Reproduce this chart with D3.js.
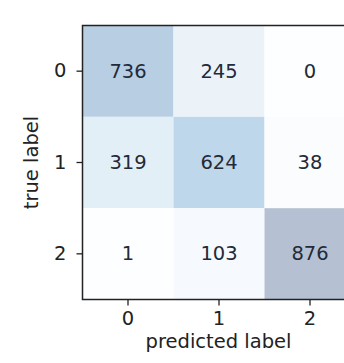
<!DOCTYPE html>
<html><head><meta charset="utf-8">
<script src="https://cdn.jsdelivr.net/npm/d3@7"></script>
<style>body{margin:0;background:#fff;} svg{display:block;} text{font-family:"DejaVu Sans",sans-serif;}</style>
</head><body>
<svg id="c" width="344" height="363"></svg>
<script>
const classes = ["0","1","2"];
const matrix = [
  [736, 245, 0],
  [319, 624, 38],
  [1, 103, 876]
];
const xLabel = "predicted label";
const yLabel = "true label";

(function(){
const svg = d3.select("#c");
const mLeft = 82.5, mTop = 25.5, cell = 91, plotH = 274;
const x = d3.scaleBand().domain(classes).range([mLeft, mLeft + cell*3]);
const y = d3.scaleBand().domain(classes).range([mTop, mTop + plotH]);
const maxV = d3.max(matrix.flat());
const color = v => {
  const c = d3.rgb(d3.interpolateBlues(v / maxV));
  const a = 0.3;
  return d3.rgb(c.r*a + 255*(1-a), c.g*a + 255*(1-a), c.b*a + 255*(1-a));
};
const cells = [];
matrix.forEach((row,i)=>row.forEach((v,j)=>cells.push({i,j,v})));
svg.selectAll("rect.cell").data(cells).enter().append("rect")
  .attr("x", d=>x(classes[d.j])).attr("y", d=>y(classes[d.i]))
  .attr("width", x.bandwidth()).attr("height", y.bandwidth())
  .attr("fill", d=>color(d.v));
svg.selectAll("text.val").data(cells).enter().append("text")
  .attr("x", d=>x(classes[d.j]) + x.bandwidth()/2)
  .attr("y", d=>y(classes[d.i]) + y.bandwidth()/2)
  .attr("text-anchor","middle").attr("dominant-baseline","central")
  .attr("font-size", 19.5).attr("fill","#232a38")
  .text(d=>d.v);
svg.append("rect").attr("x", mLeft).attr("y", mTop).attr("width", cell*3).attr("height", plotH)
  .attr("fill","none").attr("stroke","#222").attr("stroke-width",1.5);
const gx = svg.append("g").attr("transform", `translate(0,${mTop+plotH})`)
  .call(d3.axisBottom(x).tickSize(6).tickPadding(6));
const gy = svg.append("g").attr("transform", `translate(${mLeft},0)`)
  .call(d3.axisLeft(y).tickSize(6).tickPadding(10));
[gx,gy].forEach(g=>{
  g.select(".domain").remove();
  g.selectAll("line").attr("stroke","#222").attr("stroke-width",1.3);
  g.selectAll("text").attr("font-size",19.5).attr("fill","#222").style("font-family","DejaVu Sans, sans-serif");
});
svg.append("text").attr("x", mLeft + 136).attr("y", 348).attr("text-anchor","middle")
  .attr("font-size",19.5).attr("fill","#222").text(xLabel);
svg.append("text").attr("transform", `translate(38,${mTop+137}) rotate(-90)`).attr("text-anchor","middle")
  .attr("font-size",19.5).attr("fill","#222").text(yLabel);
})();
</script>
</body></html>
